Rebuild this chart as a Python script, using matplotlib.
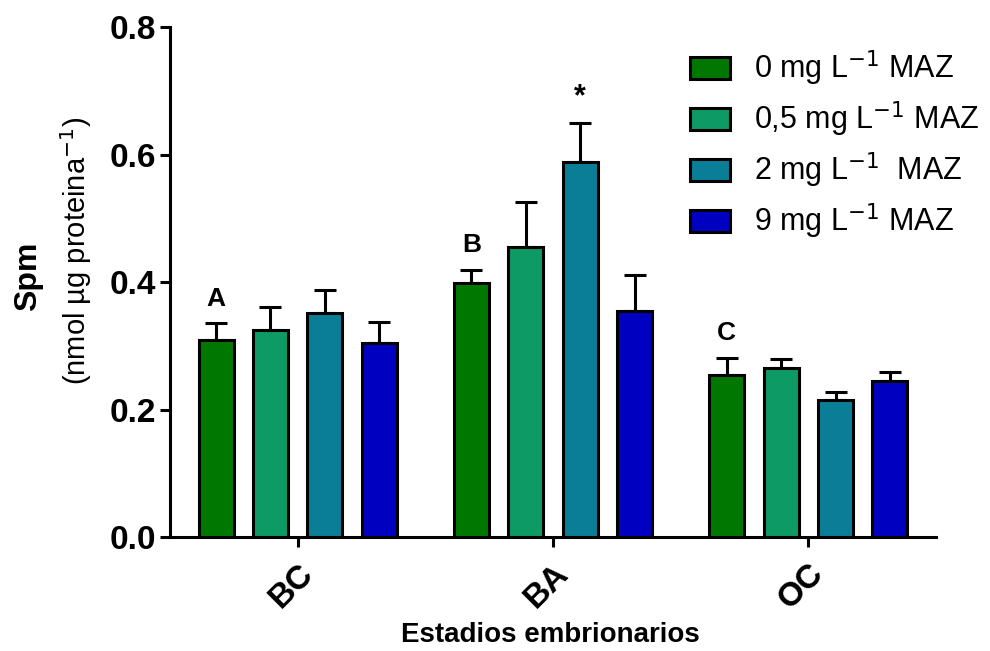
import numpy as np
import matplotlib
matplotlib.use("Agg")
import matplotlib.pyplot as plt

plt.rcParams['font.family'] = ['Liberation Sans', 'DejaVu Sans']

# data
stages = ["BC", "BA", "OC"]
series = ["0 mg L$^{-1}$ MAZ", "0,5 mg L$^{-1}$ MAZ", "2 mg L$^{-1}$  MAZ", "9 mg L$^{-1}$ MAZ"]
colors = ["#007800", "#0E9A64", "#0A7E96", "#0000C0"]
means = [
    [0.309, 0.399, 0.254],   # 0 mg
    [0.325, 0.455, 0.265],   # 0,5 mg
    [0.351, 0.588, 0.215],   # 2 mg
    [0.304, 0.355, 0.245],   # 9 mg
]
errs = [
    [0.026, 0.020, 0.027],
    [0.036, 0.070, 0.014],
    [0.036, 0.061, 0.013],
    [0.033, 0.056, 0.014],
]
group_letters = ["A", "B", "C"]
star_text = "*"

fig = plt.figure(figsize=(9.9, 6.51), dpi=100)
ax = fig.add_axes([0.1717, 0.1751, 0.7738, 0.7834])

x = np.arange(len(stages))
step = 0.213
width = 0.137
lw = 2.2

for i in range(len(series)):
    pos = x + (i - 1.5) * step
    ax.bar(pos, means[i], width, color=colors[i], edgecolor="black",
           linewidth=lw, label=series[i], zorder=3)
    ax.errorbar(pos, means[i], yerr=[np.zeros(len(stages)), errs[i]],
                fmt="none", ecolor="black", elinewidth=lw, capsize=8,
                capthick=lw, zorder=2)

# letters above the first bar of each group, star above 2 mg in BA
for j in range(len(stages)):
    top = means[0][j] + errs[0][j]
    ax.text(x[j] - 1.5 * step, top + 0.02, group_letters[j], ha="center",
            va="bottom", fontsize=19, fontweight="bold")
ax.text(x[1] + 0.5 * step, means[2][1] + errs[2][1] + 0.017, star_text,
        ha="center", va="bottom", fontsize=22, fontweight="bold")

ax.set_xlim(-0.5, 2.5)
ax.set_ylim(0, 0.8)
ax.set_yticks([0.0, 0.2, 0.4, 0.6, 0.8])
ax.set_yticklabels(["0.0", "0.2", "0.4", "0.6", "0.8"])
ax.set_xticks(x)
ax.set_xticklabels(stages, rotation=45, ha="right", rotation_mode="anchor")

for lab in ax.get_yticklabels() + ax.get_xticklabels():
    lab.set_fontsize(24)
    lab.set_fontweight("bold")

ax.spines["top"].set_visible(False)
ax.spines["right"].set_visible(False)
ax.spines["left"].set_linewidth(lw)
ax.spines["bottom"].set_linewidth(lw)
ax.tick_params(axis="y", width=lw, length=7, pad=3)
ax.tick_params(axis="x", width=lw, length=7, pad=8)

fig.text(0.028, 0.575, "Spm", rotation=90, ha="center", va="center",
         fontsize=23, fontweight="bold")
fig.text(0.077, 0.615, "(nmol µg proteina$^{-1}$)", rotation=90, ha="center",
         va="center", fontsize=21)
fig.text(0.556, 0.025, "Estadios embrionarios", ha="center", va="center",
         fontsize=20, fontweight="bold")

leg = ax.legend(loc="upper left", bbox_to_anchor=(0.663, 0.982), frameon=False,
                fontsize=22, handlelength=1.3, handleheight=0.72,
                labelspacing=0.38, handletextpad=0.8, borderaxespad=0)

fig.savefig("out.png", dpi=100)
